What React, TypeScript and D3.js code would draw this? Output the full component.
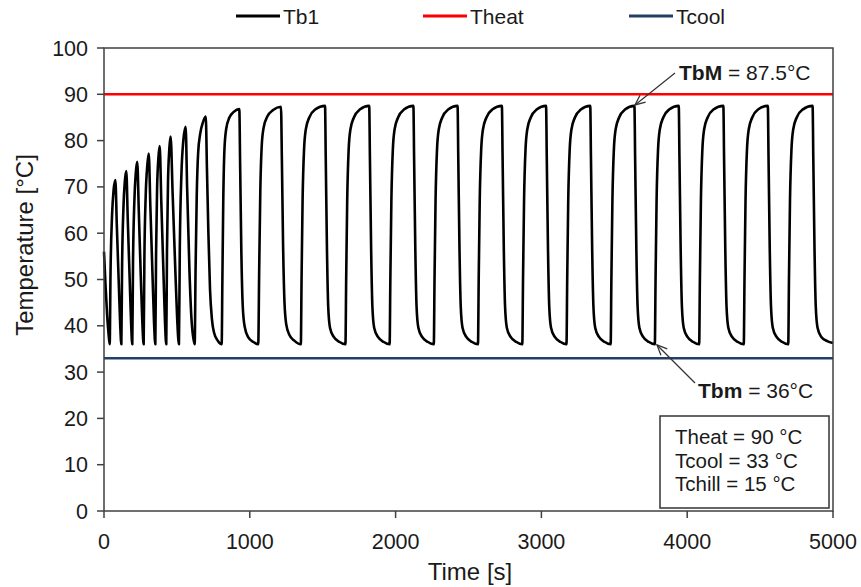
import React from "react";
import * as d3 from "d3";

// ---- data ----
const xTicks = [0, 1000, 2000, 3000, 4000, 5000];
const yTicks = [0, 10, 20, 30, 40, 50, 60, 70, 80, 90, 100];
const legendNames = ["Tb1", "Theat", "Tcool"];
const theat = 90;
const tcool = 33;
const boxLines = ["Theat = 90 \u00b0C", "Tcool = 33 \u00b0C", "Tchill = 15 \u00b0C"];

// Tb1 temperature [time s, temp °C]
const tb1: [number, number][] = [
  [0, 56], [10, 49], [22, 42], [32, 38], [39, 36],
  [45, 52], [55, 63.7], [66, 69.4], [78, 71.5], [88, 61.6], [101, 49.5], [111, 40.3], [119, 36],
  [124, 52.8], [133, 65.2], [143, 71.2], [153, 73.4], [163, 62.9], [176, 50.2], [186, 40.5], [194, 36],
  [199, 53.7], [208, 66.7], [218, 73], [228, 75.4], [239, 64.4], [252, 51], [263, 40.7], [272, 36],
  [277, 54.5], [286, 68.1], [297, 74.7], [307, 77.2], [318, 65.7], [332, 51.7], [343, 40.9], [352, 36],
  [357, 55.3], [364, 69.4], [373, 76.2], [382, 78.8], [393, 66.8], [407, 52.3], [418, 41.1], [427, 36],
  [432, 56.2], [439, 71], [448, 78.2], [457, 80.9], [471, 68.3], [488, 53.1], [502, 41.4], [514, 36],
  [520, 57], [531, 72.7], [544, 80], [560, 83], [570, 70], [586, 52], [600, 41.5], [622, 36],
  [628, 52], [636, 68], [646, 77.5], [660, 81.5], [678, 83.9], [698, 85.2],
  [706, 74], [716, 60], [727, 48], [740, 41.5], [755, 38.5], [780, 36.8], [807, 36],
  [812, 50], [818, 67], [826, 78], [838, 82.5], [860, 85], [890, 86.2], [928, 86.8],
  [934, 74], [942, 56], [952, 44], [965, 39.8], [990, 37.5], [1025, 36.5], [1058, 36],
  [1064, 51], [1072, 69], [1082, 79], [1095, 82.8], [1120, 85.2], [1160, 86.6], [1214, 87.3],
  [1220, 76], [1228, 58], [1238, 45], [1250, 40.3], [1272, 38], [1305, 36.8], [1350, 36],
  [1355, 50], [1362, 67], [1372, 78], [1384, 82.4], [1408, 85], [1448, 86.7], [1516, 87.5],
  [1521, 76], [1529, 57], [1538, 44], [1550, 39.6], [1576, 37.6], [1616, 36.5], [1656, 36],
  [1661, 50], [1668, 67], [1678, 78], [1690, 82.4], [1714, 85], [1754, 86.7], [1819, 87.5],
  [1824, 76], [1832, 57], [1841, 44], [1853, 39.6], [1879, 37.6], [1919, 36.5], [1959, 36],
  [1964, 50], [1971, 67], [1981, 78], [1993, 82.4], [2017, 85], [2057, 86.7], [2122, 87.5],
  [2127, 76], [2135, 57], [2144, 44], [2156, 39.6], [2182, 37.6], [2222, 36.5], [2262, 36],
  [2267, 50], [2274, 67], [2284, 78], [2296, 82.4], [2320, 85], [2360, 86.7], [2425, 87.5],
  [2430, 76], [2438, 57], [2447, 44], [2459, 39.6], [2485, 37.6], [2525, 36.5], [2565, 36],
  [2570, 50], [2577, 67], [2587, 78], [2599, 82.4], [2623, 85], [2663, 86.7], [2729, 87.5],
  [2734, 76], [2742, 57], [2751, 44], [2763, 39.6], [2789, 37.6], [2829, 36.5], [2869, 36],
  [2874, 50], [2881, 67], [2891, 78], [2903, 82.4], [2927, 85], [2967, 86.7], [3032, 87.5],
  [3037, 76], [3045, 57], [3054, 44], [3066, 39.6], [3092, 37.6], [3132, 36.5], [3172, 36],
  [3177, 50], [3184, 67], [3194, 78], [3206, 82.4], [3230, 85], [3270, 86.7], [3335, 87.5],
  [3340, 76], [3348, 57], [3357, 44], [3369, 39.6], [3395, 37.6], [3435, 36.5], [3475, 36],
  [3480, 50], [3487, 67], [3497, 78], [3509, 82.4], [3533, 85], [3573, 86.7], [3638, 87.5],
  [3643, 76], [3651, 57], [3660, 44], [3672, 39.6], [3698, 37.6], [3738, 36.5], [3778, 36],
  [3783, 50], [3790, 67], [3800, 78], [3812, 82.4], [3836, 85], [3876, 86.7], [3942, 87.5],
  [3947, 76], [3955, 57], [3964, 44], [3976, 39.6], [4002, 37.6], [4042, 36.5], [4082, 36],
  [4087, 50], [4094, 67], [4104, 78], [4116, 82.4], [4140, 85], [4180, 86.7], [4248, 87.5],
  [4253, 76], [4261, 57], [4270, 44], [4282, 39.6], [4308, 37.6], [4348, 36.5], [4388, 36],
  [4393, 50], [4400, 67], [4410, 78], [4422, 82.4], [4446, 85], [4486, 86.7], [4553, 87.5],
  [4558, 76], [4566, 57], [4575, 44], [4587, 39.6], [4613, 37.6], [4653, 36.5], [4693, 36],
  [4698, 50], [4705, 67], [4715, 78], [4727, 82.4], [4751, 85], [4791, 86.7], [4860, 87.5],
  [4865, 76], [4873, 57], [4882, 44], [4894, 39.6], [4920, 37.6], [4960, 36.7], [5000, 36.3],
];

const FONT = "'Liberation Sans', Arial, sans-serif";
const TEXT = "#1a1a1a";
const AXIS = "#404040";
const COOL = "#243f66";

export default function App() {
  const W = 861, H = 587;
  const x = d3.scaleLinear().domain([0, 5000]).range([104, 833]);
  const y = d3.scaleLinear().domain([0, 100]).range([511, 48]);
  const line = d3
    .line<[number, number]>()
    .x((d) => x(d[0]))
    .y((d) => y(d[1]))
    .curve(d3.curveMonotoneX);

  const legendX = [236, 423, 629];
  const legendColors = ["#000000", "#ff0000", COOL];

  const arrow = (x1: number, y1: number, x2: number, y2: number) => {
    const ang = Math.atan2(y2 - y1, x2 - x1);
    const L = 11, a = 0.42;
    const p1 = [x2 - L * Math.cos(ang - a), y2 - L * Math.sin(ang - a)];
    const p2 = [x2 - L * Math.cos(ang + a), y2 - L * Math.sin(ang + a)];
    return (
      <g stroke="#333" strokeWidth={1.3} fill="none">
        <line x1={x1} y1={y1} x2={x2} y2={y2} />
        <polyline points={`${p1[0]},${p1[1]} ${x2},${y2} ${p2[0]},${p2[1]}`} />
      </g>
    );
  };

  return (
    <svg
      width={W}
      height={H}
      style={{ position: "absolute", left: 0, top: 0, background: "#fff" }}
      fontFamily={FONT}
    >
      <rect x={0} y={0} width={W} height={H} fill="#fff" />
      {/* legend */}
      {legendNames.map((n, i) => (
        <g key={n}>
          <line x1={legendX[i]} x2={legendX[i] + 44} y1={16} y2={16} stroke={legendColors[i]} strokeWidth={3} />
          <text x={legendX[i] + 47} y={24} fontSize={21} fill={TEXT}>{n}</text>
        </g>
      ))}

      {/* reference lines */}
      <line x1={x(0)} x2={x(5000)} y1={y(theat)} y2={y(theat)} stroke="#ff0000" strokeWidth={2.6} />
      <line x1={x(0)} x2={x(5000)} y1={y(tcool)} y2={y(tcool)} stroke={COOL} strokeWidth={2.6} />

      {/* Tb1 */}
      <path d={line(tb1) || ""} fill="none" stroke="#000" strokeWidth={2.6} strokeLinejoin="round" />

      {/* frame */}
      <rect x={x(0)} y={y(100)} width={x(5000) - x(0)} height={y(0) - y(100)} fill="none" stroke={AXIS} strokeWidth={1.5} />

      {/* y axis */}
      {yTicks.map((t) => (
        <g key={t}>
          <line x1={x(0) - 7} x2={x(0)} y1={y(t)} y2={y(t)} stroke={AXIS} strokeWidth={1.5} />
          <text x={88} y={y(t) + 7.5} fontSize={21.5} textAnchor="end" fill={TEXT}>{t}</text>
        </g>
      ))}
      {/* x axis */}
      {xTicks.map((t) => (
        <g key={t}>
          <line x1={x(t)} x2={x(t)} y1={y(0)} y2={y(0) + 7} stroke={AXIS} strokeWidth={1.5} />
          <text x={x(t)} y={549} fontSize={21.5} textAnchor="middle" fill={TEXT}>{t}</text>
        </g>
      ))}

      <text x={470} y={580} fontSize={24} textAnchor="middle" fill={TEXT}>Time [s]</text>
      <text
        transform={`translate(33, ${245}) rotate(-90)`}
        fontSize={24}
        textAnchor="middle"
        fill={TEXT}
      >
        Temperature [°C]
      </text>

      {/* annotations */}
      {arrow(675, 73, 635, 105)}
      <text x={679} y={80} fontSize={21} fill={TEXT}>
        <tspan fontWeight="bold">TbM</tspan> = 87.5°C
      </text>
      {arrow(695, 383, 657, 345)}
      <text x={698} y={398} fontSize={21} fill={TEXT}>
        <tspan fontWeight="bold">Tbm</tspan> = 36°C
      </text>

      {/* info box */}
      <rect x={660} y={416} width={169} height={92} fill="#fff" stroke="#333" strokeWidth={1.5} />
      {boxLines.map((s, i) => (
        <text key={s} x={675} y={444 + i * 23.7} fontSize={20.5} fill={TEXT}>{s}</text>
      ))}
    </svg>
  );
}
